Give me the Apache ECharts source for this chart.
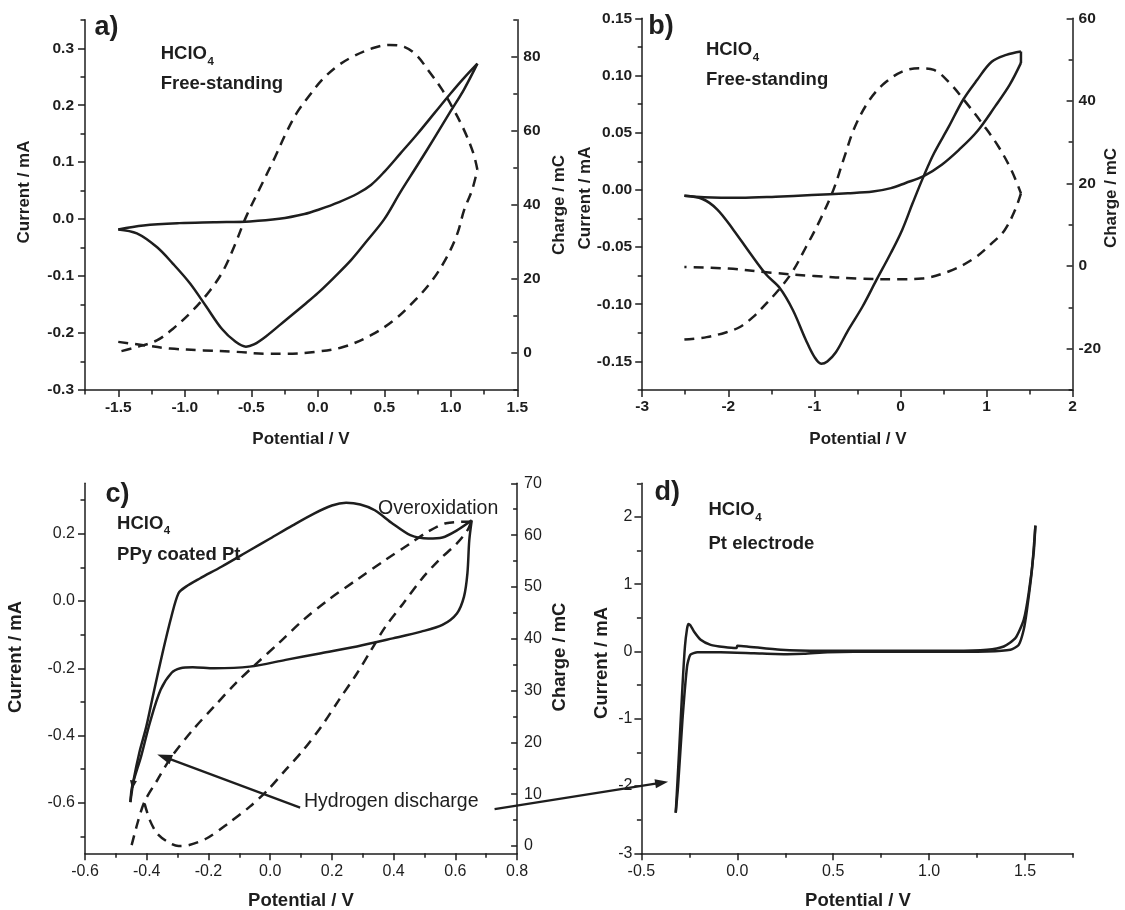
<!DOCTYPE html>
<html><head><meta charset="utf-8">
<script src="https://cdn.jsdelivr.net/npm/echarts@6/dist/echarts.min.js"></script>
<style>
html,body{margin:0;padding:0;background:#fff;overflow:hidden;}
#chart{width:1125px;height:910px;}
</style></head><body><div id="chart"></div>
<script>
// ---------------- Panel a : HClO4, free-standing ----------------
const aFwdV = [-1.5,-1.31,-1.04,-0.78,-0.51,-0.29,-0.1,0.01,0.16,0.3,0.4,0.5,0.62,0.75,0.88,1.0,1.1,1.2];
const aFwdI = [-0.018,-0.011,-0.007,-0.0055,-0.004,0.0005,0.009,0.017,0.03,0.045,0.06,0.083,0.115,0.150,0.187,0.221,0.248,0.273];
const aRevV = [1.2,1.1,1.0,0.87,0.75,0.62,0.5,0.37,0.25,0.12,0.0,-0.09,-0.24,-0.39,-0.48,-0.54,-0.62,-0.72,-0.84,-0.96,-1.09,-1.21,-1.36,-1.5];
const aRevI = [0.273,0.228,0.19,0.14,0.095,0.047,0.0,-0.038,-0.072,-0.103,-0.13,-0.148,-0.177,-0.206,-0.220,-0.224,-0.215,-0.193,-0.153,-0.113,-0.078,-0.049,-0.025,-0.018];
const aChgLowV = [-1.5,-1.31,-1.11,-0.86,-0.61,-0.39,-0.24,-0.02,0.19,0.4,0.57,0.73,0.86,0.97,1.05,1.1,1.16,1.2];
const aChgLowQ = [3.0,2.1,1.2,0.7,0.3,-0.2,-0.2,0.3,1.6,4.8,8.8,14.2,19.6,25.9,32.3,38.6,44,49.5];
const aChgUpV = [1.2,1.17,1.1,1.01,0.93,0.83,0.74,0.65,0.54,0.41,0.26,0.14,0.03,-0.07,-0.16,-0.24,-0.32,-0.43,-0.54,-0.62,-0.71,-0.81,-0.94,-1.09,-1.21,-1.36,-1.5];
const aChgUpQ = [49.5,53.9,60.2,66.5,71.4,76.4,80.5,82.7,83.2,82.3,80,77.3,73.7,69.2,64.7,59.3,53,44.9,36.7,29.5,22.3,16.9,11.5,6.5,3.4,1.6,0.3];
const aXMajor = [-1.5,-1.0,-0.5,0,0.5,1.0,1.5];
const aXMinor = [-1.75,-1.25,-0.75,-0.25,0.25,0.75,1.25];
const aYMajor = [-0.3,-0.2,-0.1,0,0.1,0.2,0.3];
const aYMinor = [-0.25,-0.15,-0.05,0.05,0.15,0.25,0.35];
const aQMajor = [0,20,40,60,80];
const aQMinor = [-10,10,30,50,70,90];

// ---------------- Panel b : HClO4, free-standing ----------------
const bFwdV = [-2.51,-2.28,-1.86,-1.45,-1.03,-0.61,-0.32,-0.11,0.06,0.27,0.48,0.68,0.89,1.1,1.27,1.4];
const bFwdI = [-0.0052,-0.0065,-0.007,-0.006,-0.0045,-0.003,-0.0015,0.0015,0.006,0.012,0.022,0.035,0.051,0.073,0.092,0.111];
const bEdgeV = [1.4,1.4];
const bEdgeI = [0.111,0.121];
const bRevV = [1.4,1.23,1.06,0.89,0.73,0.56,0.39,0.27,0.14,0.02,-0.11,-0.28,-0.44,-0.61,-0.75,-0.85,-0.92,-1.0,-1.1,-1.25,-1.4,-1.56,-1.75,-1.94,-2.13,-2.3,-2.51];
const bRevI = [0.121,0.118,0.112,0.096,0.079,0.055,0.032,0.012,-0.012,-0.035,-0.055,-0.079,-0.102,-0.123,-0.142,-0.150,-0.152,-0.146,-0.131,-0.105,-0.086,-0.074,-0.055,-0.035,-0.017,-0.008,-0.0052];
const bChgUpV = [-2.51,-2.25,-2.02,-1.87,-1.71,-1.56,-1.40,-1.25,-1.10,-0.94,-0.78,-0.65,-0.53,-0.36,-0.19,0.02,0.23,0.39,0.56,0.77,0.98,1.14,1.29,1.4];
const bChgUpQ = [-17.8,-17.2,-16.0,-14.8,-12.3,-9.1,-5.4,-1.2,4.5,10.9,18.4,26.5,33.7,40.2,44.2,47.1,47.9,47.5,44.6,39.4,33.7,28.9,23.2,17.6];
const bChgLowV = [1.4,1.33,1.21,1.06,0.85,0.56,0.25,0,-0.5,-1.0,-1.5,-2.0,-2.51];
const bChgLowQ = [17.6,13.5,8.7,5.5,1.8,-1.3,-3.0,-3.2,-3.0,-2.4,-1.6,-0.6,-0.2];
const bXMajor = [-3,-2,-1,0,1,2];
const bXMinor = [-2.5,-1.5,-0.5,0.5,1.5];
const bYMajor = [-0.15,-0.10,-0.05,0,0.05,0.10,0.15];
const bYMinor = [-0.175,-0.125,-0.075,-0.025,0.025,0.075,0.125];
const bQMajor = [-20,0,20,40,60];
const bQMinor = [-30,-10,10,30,50];

// ---------------- Panel c : HClO4, PPy coated Pt ----------------
const cUpV = [-0.453,-0.442,-0.424,-0.401,-0.378,-0.349,-0.32,-0.297,-0.274,-0.228,-0.158,-0.066,0.0,0.073,0.142,0.2,0.246,0.292,0.339,0.397,0.454,0.512,0.558,0.605,0.653];
const cUpI = [-0.598,-0.53,-0.451,-0.372,-0.274,-0.155,-0.046,0.023,0.042,0.067,0.102,0.151,0.186,0.225,0.26,0.284,0.292,0.287,0.27,0.23,0.196,0.186,0.189,0.21,0.24];
const cLowV = [0.653,0.645,0.639,0.628,0.605,0.558,0.489,0.397,0.281,0.165,0.05,-0.066,-0.181,-0.251,-0.291,-0.32,-0.355,-0.39,-0.418,-0.447,-0.453];
const cLowI = [0.24,0.18,0.082,0.013,-0.037,-0.071,-0.091,-0.111,-0.135,-0.155,-0.175,-0.195,-0.2,-0.197,-0.2,-0.214,-0.264,-0.362,-0.461,-0.55,-0.598];
const cChgUpV = [-0.407,-0.39,-0.366,-0.332,-0.297,-0.262,-0.205,-0.135,-0.066,-0.008,0.05,0.107,0.165,0.223,0.281,0.327,0.373,0.431,0.489,0.547,0.605,0.64,0.651];
const cChgUpQ = [8.2,5.0,2.4,0.8,0.0,0.2,1.5,4.4,7.6,10.8,14.7,18.5,23.0,28.2,33.3,37.8,42.3,46.8,51.4,55.2,58.4,61.0,62.6];
const cChgDnV = [0.651,0.57,0.512,0.454,0.373,0.281,0.188,0.107,0.027,-0.043,-0.112,-0.182,-0.251,-0.32,-0.366,-0.407,-0.43,-0.453];
const cChgDnQ = [62.6,62.3,60.7,58.4,55.2,51.4,47.5,43.6,39.1,35.3,31.4,26.9,22.4,17.2,12.7,8.6,4.4,-0.8];
const cXMajor = [-0.6,-0.4,-0.2,0,0.2,0.4,0.6,0.8];
const cXMinor = [-0.5,-0.3,-0.1,0.1,0.3,0.5,0.7];
const cYMajor = [-0.6,-0.4,-0.2,0,0.2];
const cYMinor = [-0.7,-0.5,-0.3,-0.1,0.1,0.3];
const cQMajor = [0,10,20,30,40,50,60,70];
const cQMinor = [5,15,25,35,45,55,65];

// ---------------- Panel d : HClO4, Pt electrode ----------------
const dUpV = [-0.321,-0.304,-0.286,-0.273,-0.262,-0.255,-0.245,-0.226,-0.191,-0.139,-0.069,-0.004,0.0,0.05,0.226,0.434,0.781,1.128,1.302,1.389,1.45,1.493,1.519,1.545,1.554];
const dUpI = [-2.397,-1.514,-0.521,0.074,0.34,0.41,0.39,0.298,0.174,0.099,0.065,0.05,0.085,0.075,0.025,0.01,0.01,0.01,0.025,0.074,0.199,0.471,0.868,1.464,1.871];
const dLowV = [1.554,1.536,1.51,1.493,1.467,1.424,1.302,0.955,0.608,0.47,0.347,0.26,0.087,-0.087,-0.208,-0.245,-0.262,-0.286,-0.309,-0.321];
const dLowI = [1.871,1.216,0.62,0.323,0.099,0.025,0.0,-0.005,-0.005,-0.012,-0.035,-0.04,-0.025,-0.01,-0.01,-0.05,-0.223,-1.017,-2.01,-2.397];
const dXMajor = [-0.5,0,0.5,1.0,1.5];
const dXMinor = [-0.25,0.25,0.75,1.25,1.75];
const dYMajor = [-3,-2,-1,0,1,2];
const dYMinor = [-2.5,-1.5,-0.5,0.5,1.5,2.5];

// annotation anchor points (data coordinates)
const arrow1Tail = [0.097,-0.614], arrow1Head = [-0.366,-0.456];   // panel c
const arrow2Tail = [0.727,-0.619];                                  // panel c
const arrow2Head = [-0.361,-1.936];                                 // panel d

// ---------------- chart ----------------
const FONT = '"Liberation Sans", Arial, Helvetica, sans-serif';
const INK = '#1e1e1e';
const chart = echarts.init(document.getElementById('chart'), null, {renderer:'canvas'});

const grids = [
  {left:85, top:19.8, width:432.3, height:370.2},
  {left:642.2, top:18.3, width:430.4, height:371.7},
  {left:85, top:483.3, width:432.1, height:370},
  {left:641.4, top:483.3, width:431.6, height:370}
].map(g => Object.assign({containLabel:false, outerBoundsMode:'none', show:false}, g));

const xAxes = [], yAxes = [];
function fmt(dec, majors) {
  return function (v) {
    if (!majors.some(m => Math.abs(m - v) < 1e-7)) return '';
    if (Math.abs(v) < 1e-9) v = 0;
    return v.toFixed(dec);
  };
}
function addAxis(list, o) {
  const ls = {color: INK, width: 1.5};
  list.push({
    type:'value', gridIndex:o.g, position:o.pos, min:o.min, max:o.max, interval:o.step,
    axisLine:{show:true, onZero:false, lineStyle:ls},
    axisTick:{show:true, inside:!!o.inside, length:o.inside ? 6 : 7, customValues:o.majors, lineStyle:ls},
    axisLabel:{show:true, customValues:o.majors, margin:o.margin, fontSize:o.fs,
      fontWeight:o.bold ? 'bold' : 'normal', color:INK, fontFamily:FONT, formatter:fmt(o.dec, o.majors)},
    splitLine:{show:false}, minorTick:{show:false}, minorSplitLine:{show:false}
  });
  const main = list.length - 1;
  list.push({
    type:'value', gridIndex:o.g, position:o.pos, min:o.min, max:o.max, interval:o.step,
    axisLine:{show:false, onZero:false}, axisLabel:{show:false}, splitLine:{show:false},
    axisTick:{show:true, inside:!!o.inside, length:o.inside ? 4 : 4.5, customValues:o.minors, lineStyle:ls}
  });
  return main;
}
const TF = 15.5;
const aX = addAxis(xAxes, {g:0,pos:'bottom',min:-1.75,max:1.5,step:0.25,majors:aXMajor,minors:aXMinor,dec:1,bold:true,fs:TF,margin:10});
const aY = addAxis(yAxes, {g:0,pos:'left',min:-0.3,max:0.35,step:0.05,majors:aYMajor,minors:aYMinor,dec:1,bold:true,fs:TF,margin:11});
const aQ = addAxis(yAxes, {g:0,pos:'right',min:-10,max:90,step:10,majors:aQMajor,minors:aQMinor,dec:0,bold:true,fs:TF,margin:6,inside:true});
const bX = addAxis(xAxes, {g:1,pos:'bottom',min:-3,max:2,step:0.5,majors:bXMajor,minors:bXMinor,dec:0,bold:true,fs:TF,margin:9});
const bY = addAxis(yAxes, {g:1,pos:'left',min:-0.175,max:0.15,step:0.025,majors:bYMajor,minors:bYMinor,dec:2,bold:true,fs:TF,margin:10});
const bQ = addAxis(yAxes, {g:1,pos:'right',min:-30,max:60,step:10,majors:bQMajor,minors:bQMinor,dec:0,bold:true,fs:TF,margin:6,inside:true});
const cX = addAxis(xAxes, {g:2,pos:'bottom',min:-0.6,max:0.8,step:0.1,majors:cXMajor,minors:cXMinor,dec:1,bold:false,fs:16,margin:10});
const cY = addAxis(yAxes, {g:2,pos:'left',min:-0.75,max:0.35,step:0.05,majors:cYMajor,minors:cYMinor,dec:1,bold:false,fs:16,margin:10});
const cQ = addAxis(yAxes, {g:2,pos:'right',min:-1.4,max:70,step:0.2,majors:cQMajor,minors:cQMinor,dec:0,bold:false,fs:16,margin:7,inside:true});
const dX = addAxis(xAxes, {g:3,pos:'bottom',min:-0.5,max:1.75,step:0.25,majors:dXMajor,minors:dXMinor,dec:1,bold:false,fs:16,margin:10});
const dY = addAxis(yAxes, {g:3,pos:'left',min:-3,max:2.5,step:0.5,majors:dYMajor,minors:dYMinor,dec:0,bold:false,fs:16,margin:9});

function curve(xi, yi, V, Y, dashed, smooth) {
  return {type:'line', xAxisIndex:xi, yAxisIndex:yi, data:V.map((v,k)=>[v,Y[k]]),
    symbol:'none', showSymbol:false, smooth:smooth, silent:true, animation:false, z:3,
    lineStyle:{color:INK, width:2.5, type: dashed ? [10,7] : 'solid', cap:'butt', join:'round'}};
}
const series = [
  curve(aX,aY,aFwdV,aFwdI,false,0.35), curve(aX,aY,aRevV,aRevI,false,0.35),
  curve(aX,aQ,aChgLowV,aChgLowQ,true,0.35), curve(aX,aQ,aChgUpV,aChgUpQ,true,0.35),
  curve(bX,bY,bFwdV,bFwdI,false,0.35), curve(bX,bY,bEdgeV,bEdgeI,false,false), curve(bX,bY,bRevV,bRevI,false,0.35),
  curve(bX,bQ,bChgUpV,bChgUpQ,true,0.35), curve(bX,bQ,bChgLowV,bChgLowQ,true,0.35),
  curve(cX,cY,cUpV,cUpI,false,0.3), curve(cX,cY,cLowV,cLowI,false,0.3),
  curve(cX,cQ,cChgUpV,cChgUpQ,true,0.3), curve(cX,cQ,cChgDnV,cChgDnQ,true,0.3),
  curve(dX,dY,dUpV,dUpI,false,0.2), curve(dX,dY,dLowV,dLowI,false,0.2)
];

chart.setOption({animation:false, grid:grids, xAxis:xAxes, yAxis:yAxes, series:series});

// ---------------- annotations ----------------
const G = [];
const measure = document.createElement('canvas').getContext('2d');
function T(x, capTop, str, fs, bold) {
  G.push({type:'text', x:x, y:capTop + 0.36*fs, z:10, silent:true,
    style:{text:str, fontSize:fs, fontWeight:bold?'bold':'normal', fontFamily:FONT, fill:INK, align:'left', verticalAlign:'middle'}});
}
function HClO4(x, capTop, fs) {
  T(x, capTop, 'HClO', fs, true);
  measure.font = 'bold ' + fs + 'px ' + FONT;
  const w = measure.measureText('HClO').width;
  const sfs = 11.5;
  T(x + w + 0.5, capTop + 0.716*fs + 5 - 0.716*sfs, '4', sfs, true);
}
function VT(cx, cy, str, fs) {
  G.push({type:'text', x:cx, y:cy, rotation:Math.PI/2, z:10, silent:true,
    style:{text:str, fontSize:fs, fontWeight:'bold', fontFamily:FONT, fill:INK, align:'center', verticalAlign:'middle'}});
}
function HT(cx, cy, str, fs) {
  G.push({type:'text', x:cx, y:cy, z:10, silent:true,
    style:{text:str, fontSize:fs, fontWeight:'bold', fontFamily:FONT, fill:INK, align:'center', verticalAlign:'middle'}});
}
function arrow(p0, p1, head, hw, lw) {
  const dx=p1[0]-p0[0], dy=p1[1]-p0[1], L=Math.hypot(dx,dy), ux=dx/L, uy=dy/L;
  const bx=p1[0]-ux*head, by=p1[1]-uy*head;
  G.push({type:'line', z:10, silent:true, shape:{x1:p0[0],y1:p0[1],x2:bx+ux*2,y2:by+uy*2}, style:{stroke:INK, lineWidth:lw}});
  G.push({type:'polygon', z:10, silent:true, shape:{points:[[p1[0],p1[1]],[bx-uy*hw,by+ux*hw],[bx+uy*hw,by-ux*hw]]}, style:{fill:INK}});
}
const P = (xi, yi, pt) => chart.convertToPixel({xAxisIndex:xi, yAxisIndex:yi}, pt);

const AF = 18.5;   // annotation font
// panel letters
T(94.6, 17.5, 'a)', 27, true);
T(648.3, 16.5, 'b)', 27, true);
T(105.4, 484.5, 'c)', 27, true);
T(654.4, 483, 'd)', 27, true);
// legends in panels
HClO4(160.7, 47.5, AF); T(160.7, 77.5, 'Free-standing', AF, true);
HClO4(705.9, 43.5, AF); T(705.9, 73.5, 'Free-standing', AF, true);
HClO4(117.1, 517, AF); T(117.1, 548.5, 'PPy coated Pt', AF, true);
HClO4(708.5, 503.5, AF); T(708.5, 537, 'Pt electrode', AF, true);
T(378, 502, 'Overoxidation', 19.5, false);
T(304, 795, 'Hydrogen discharge', 19.5, false);
// axis titles
const TT = 17, TB = 18.5;
VT(24, 192, 'Current / mA', TT);
VT(559, 205, 'Charge / mC', TT);
VT(585, 198, 'Current / mA', TT);
VT(1111, 198, 'Charge / mC', TT);
VT(16, 657, 'Current / mA', TB);
VT(560, 657, 'Charge / mC', TB);
VT(602, 663, 'Current / mA', TB);
HT(301, 439, 'Potential / V', TT);
HT(858, 439, 'Potential / V', TT);
HT(301, 901, 'Potential / V', TB);
HT(858, 901, 'Potential / V', TB);
// arrows
arrow(P(cX,cY,arrow1Tail), P(cX,cY,arrow1Head), 15, 5, 2.3);
arrow(P(cX,cY,arrow2Tail), P(dX,dY,arrow2Head), 13, 4.5, 2.3);
// small direction marker near the tip in c
(function(){
  const a = P(cX,cY,[-0.438,-0.50]), b = P(cX,cY,[-0.447,-0.56]);
  const dx=b[0]-a[0], dy=b[1]-a[1], L=Math.hypot(dx,dy), ux=dx/L, uy=dy/L;
  const bx=b[0]-ux*9, by=b[1]-uy*9;
  G.push({type:'polygon', z:10, silent:true, shape:{points:[[b[0],b[1]],[bx-uy*3.5,by+ux*3.5],[bx+uy*3.5,by-ux*3.5]]}, style:{fill:INK}});
})();

chart.setOption({graphic:{elements:G}});
</script></body></html>
